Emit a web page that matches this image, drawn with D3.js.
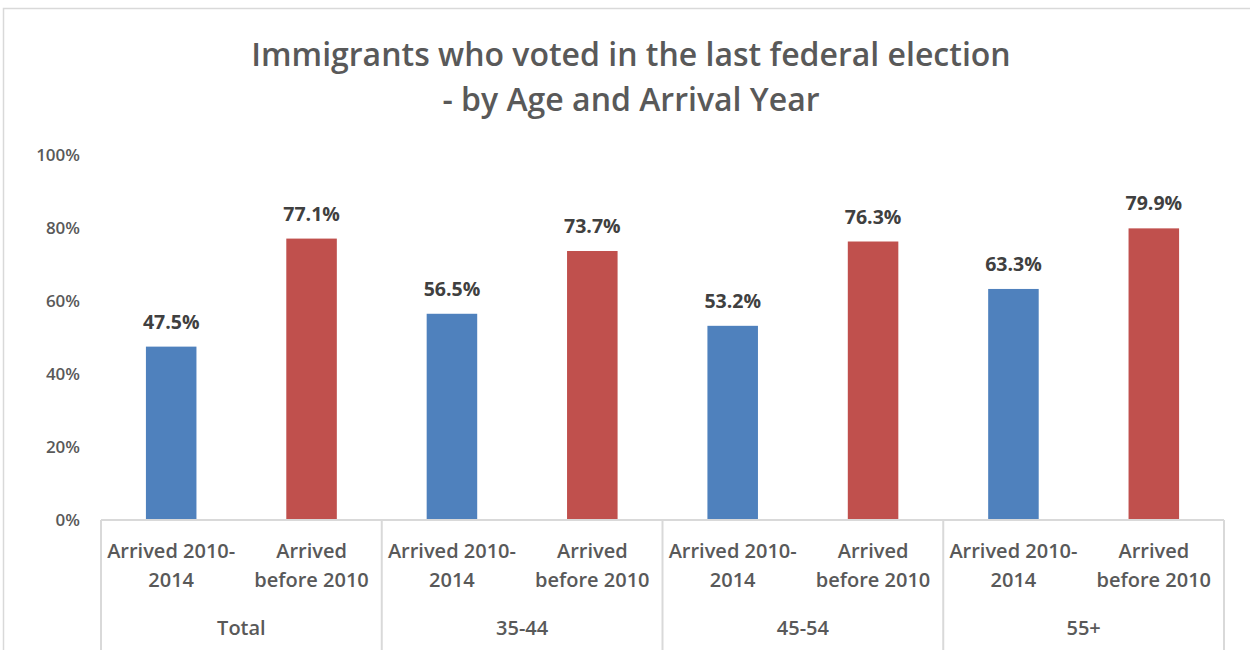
<!DOCTYPE html>
<html>
<head>
<meta charset="utf-8">
<script src="https://cdn.jsdelivr.net/npm/d3@7"></script>
<style>
  body { margin: 0; background: #fff; }
  svg text { font-family: "Open Sans", sans-serif; }
</style>
</head>
<body>
<div id="chart"></div>
<script>
// data
const groups = ["Total", "35-44", "45-54", "55+"];
const series = ["Arrived 2010-2014", "Arrived before 2010"];
const seriesLines = [["Arrived 2010-", "2014"], ["Arrived", "before 2010"]];
const recent = [47.5, 56.5, 53.2, 63.3];
const before = [77.1, 73.7, 76.3, 79.9];
const yTicks = [0, 20, 40, 60, 80, 100];
const colours = ["#4F81BD", "#C0504D"];

const width = 1250;
const height = 650;
const margin = { left: 101, right: 26, top: 155, bottom: 130 };

const svg = d3.select("#chart")
  .append("svg")
  .attr("width", width)
  .attr("height", height);

// chart frame (right and bottom edges fall outside the picture)
svg.append("rect")
  .attr("x", 3.5).attr("y", 8.5)
  .attr("width", 1260).attr("height", 660)
  .attr("fill", "none")
  .attr("stroke", "#d9d9d9")
  .attr("stroke-width", 1.5);

// title
const title = svg.append("text")
  .attr("text-anchor", "middle")
  .attr("fill", "#595959")
  .attr("font-size", 32)
  .attr("font-weight", 600);
title.append("tspan").attr("x", 631).attr("y", 66).text("Immigrants who voted in the last federal election");
title.append("tspan").attr("x", 631).attr("y", 111).text("- by Age and Arrival Year");

const y = d3.scaleLinear()
  .domain([0, 100])
  .range([height - margin.bottom, margin.top]);

const x0 = d3.scaleBand()
  .domain(groups)
  .range([margin.left, width - margin.right]);

const x1 = d3.scaleBand()
  .domain(series)
  .range([0, x0.bandwidth()])
  .paddingInner(0.64)
  .paddingOuter(0.32);

// rows for each bar
const rows = [];
groups.forEach((g, i) => {
  rows.push({ group: g, s: series[0], value: recent[i], k: 0 });
  rows.push({ group: g, s: series[1], value: before[i], k: 1 });
});

// y axis labels (no line, no grid)
svg.append("g")
  .selectAll("text")
  .data(yTicks)
  .join("text")
  .attr("x", 80)
  .attr("y", d => y(d))
  .attr("dy", "0.35em")
  .attr("text-anchor", "end")
  .attr("fill", "#595959")
  .attr("font-size", 17)
  .attr("font-weight", 600)
  .text(d => d + "%");

// bars
svg.append("g")
  .selectAll("rect")
  .data(rows)
  .join("rect")
  .attr("x", d => x0(d.group) + x1(d.s))
  .attr("y", d => y(d.value))
  .attr("width", x1.bandwidth())
  .attr("height", d => y(0) - y(d.value))
  .attr("fill", d => colours[d.k]);

// value labels
svg.append("g")
  .selectAll("text")
  .data(rows)
  .join("text")
  .attr("x", d => x0(d.group) + x1(d.s) + x1.bandwidth() / 2)
  .attr("y", d => y(d.value) - 18)
  .attr("text-anchor", "middle")
  .attr("fill", "#404040")
  .attr("font-size", 19.5)
  .attr("font-weight", 700)
  .text(d => d.value.toFixed(1) + "%");

// x axis line and group dividers
const axis = svg.append("g").attr("stroke", "#d9d9d9").attr("stroke-width", 2);
axis.append("line")
  .attr("x1", margin.left).attr("x2", width - margin.right)
  .attr("y1", y(0)).attr("y2", y(0));
axis.selectAll("line.div")
  .data(groups.concat(["end"]))
  .join("line")
  .attr("class", "div")
  .attr("x1", (d, i) => i < groups.length ? x0(d) : width - margin.right)
  .attr("x2", (d, i) => i < groups.length ? x0(d) : width - margin.right)
  .attr("y1", y(0))
  .attr("y2", height);

// series labels under each bar
const cat = svg.append("g")
  .selectAll("text")
  .data(rows)
  .join("text")
  .attr("text-anchor", "middle")
  .attr("fill", "#595959")
  .attr("font-size", 20)
  .attr("font-weight", 600);
cat.each(function (d) {
  const cx = x0(d.group) + x1(d.s) + x1.bandwidth() / 2;
  seriesLines[d.k].forEach((line, j) => {
    d3.select(this).append("tspan")
      .attr("x", cx)
      .attr("y", y(0) + 38 + j * 29)
      .text(line);
  });
});

// group labels
svg.append("g")
  .selectAll("text")
  .data(groups)
  .join("text")
  .attr("x", d => x0(d) + x0.bandwidth() / 2)
  .attr("y", y(0) + 115)
  .attr("text-anchor", "middle")
  .attr("fill", "#595959")
  .attr("font-size", 20)
  .attr("font-weight", 600)
  .text(d => d);
</script>
</body>
</html>
